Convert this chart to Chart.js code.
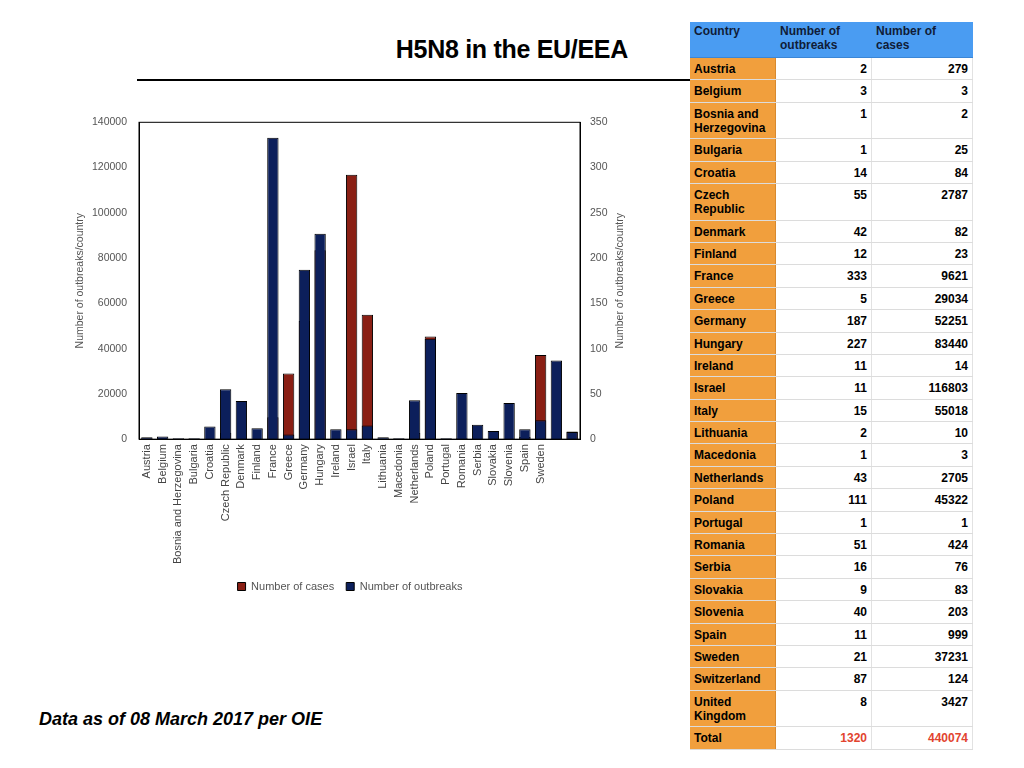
<!DOCTYPE html>
<html>
<head>
<meta charset="utf-8">
<script src="https://cdn.jsdelivr.net/npm/chart.js@4"></script>
<style>
  body { margin: 0; width: 1024px; height: 768px; background: #fff; position: relative; overflow: hidden; font-family: "Liberation Sans", Arial, sans-serif; }
  #title { position: absolute; left: 137px; width: 553px; top: 35px; text-align: right; padding-right: 62px; box-sizing: border-box; font-weight: bold; font-size: 25px; color: #000; letter-spacing: -0.3px; }
  #rule { position: absolute; left: 137px; width: 553px; top: 79px; height: 2px; background: #000; }
  #note { position: absolute; left: 39px; top: 709px; font-weight: bold; font-style: italic; font-size: 18px; }
  #wrap { position: absolute; left: 60px; top: 104px; width: 600px; height: 498px; }
  #tbl { position: absolute; left: 690px; top: 22px; width: 283px; font-size: 12px; font-weight: bold; }
  .row { display: flex; box-sizing: border-box; border-bottom: 1px solid #dcdcdc; }
  .row div { box-sizing: border-box; padding: 4px 4px 0 4px; line-height: 14px; }
  .c0 { width: 86px; background: #f19f3d; border-right: 1px solid #d88a2f; }
  .c1 { width: 96px; text-align: right; border-right: 1px solid #e2e2e2; }
  .c2 { width: 101px; text-align: right; border-right: 1px solid #e2e2e2; }
  .head { background: #4a9cf2; height: 36px; border-bottom: 1px solid #3b86d6; }
  .head div { background: transparent; border: none; text-align: left; color: #101c38; line-height: 13.5px; padding-top: 3px; }
  .tot div.c1, .tot div.c2 { color: #e2442f; }
</style>
</head>
<body>
<div id="title">H5N8 in the EU/EEA</div>
<div id="rule"></div>
<div id="wrap"><canvas id="myChart"></canvas></div>
<div id="tbl"></div>
<div id="note">Data as of 08 March 2017 per OIE</div>
<script>
let countries = ['Austria', 'Belgium', 'Bosnia and Herzegovina', 'Bulgaria', 'Croatia', 'Czech Republic',
    'Denmark', 'Finland', 'France', 'Greece', 'Germany', 'Hungary', 'Ireland', 'Israel', 'Italy',
    'Lithuania', 'Macedonia', 'Netherlands', 'Poland', 'Portugal', 'Romania', 'Serbia', 'Slovakia',
    'Slovenia', 'Spain', 'Sweden', 'Switzerland', 'United Kingdom'];
let outbreaks = [2, 3, 1, 1, 14, 55, 42, 12, 333, 5, 187, 227, 11, 11, 15, 2, 1, 43, 111, 1, 51, 16, 9, 40, 11, 21, 87, 8];
let cases = [279, 3, 2, 25, 84, 2787, 82, 23, 9621, 29034, 52251, 83440, 14, 116803, 55018, 10, 3, 2705, 45322, 1, 424, 76, 83, 203, 999, 37231, 124, 3427];
// the last two categories have no tick label in the original
let tickLabels = countries.slice(0, 26).concat(['', '']);
let casesTicks = [0, 20000, 40000, 60000, 80000, 100000, 120000, 140000];
let outbreakTicks = [0, 50, 100, 150, 200, 250, 300, 350];
let axisTitle = 'Number of outbreaks/country';

// table on the right
let tableNames = ['Austria', 'Belgium', 'Bosnia and Herzegovina', 'Bulgaria', 'Croatia', 'Czech<br>Republic',
    'Denmark', 'Finland', 'France', 'Greece', 'Germany', 'Hungary', 'Ireland', 'Israel', 'Italy',
    'Lithuania', 'Macedonia', 'Netherlands', 'Poland', 'Portugal', 'Romania', 'Serbia', 'Slovakia',
    'Slovenia', 'Spain', 'Sweden', 'Switzerland', 'United<br>Kingdom'];
let tbl = document.getElementById('tbl');
let html = '<div class="row head"><div class="c0">Country</div><div class="c1">Number of<br>outbreaks</div><div class="c2">Number of<br>cases</div></div>';
for (let i = 0; i < countries.length; i++) {
    let tall = (i === 2 || i === 5 || i === 27);
    html += '<div class="row" style="height:' + (tall ? 36.5 : 22.4) + 'px"><div class="c0">' + tableNames[i] +
        '</div><div class="c1">' + outbreaks[i] + '</div><div class="c2">' + cases[i] + '</div></div>';
}
let totOut = outbreaks.reduce((a, b) => a + b, 0);
let totCases = cases.reduce((a, b) => a + b, 0);
html += '<div class="row tot" style="height:22.4px"><div class="c0">Total</div><div class="c1">' + totOut +
    '</div><div class="c2">' + totCases + '</div></div>';
tbl.innerHTML = html;

let tickFont = { family: '"Liberation Sans", Arial, sans-serif', size: 10.5 };

// box round the plot, and the right axis title turned the same way as the left one
let frame = {
    id: 'frame',
    afterDatasetsDraw(chart) {
        let a = chart.chartArea;
        let c = chart.ctx;
        c.save();
        c.strokeStyle = '#000';
        c.lineWidth = 1;
        c.strokeRect(a.left, a.top, a.right - a.left, a.bottom - a.top);
        c.restore();
    },
    afterDraw(chart) {
        let s = chart.scales.yOut;
        let c = chart.ctx;
        c.save();
        c.translate(s.left + 40, (s.top + s.bottom) / 2);
        c.rotate(-Math.PI / 2);
        c.fillStyle = '#555';
        c.font = '10.5px "Liberation Sans", Arial, sans-serif';
        c.textAlign = 'center';
        c.textBaseline = 'middle';
        c.fillText(axisTitle, 0, 0);
        c.restore();
    }
};

let ctx = document.getElementById('myChart').getContext('2d');
let myChart = new Chart(ctx, {
    type: 'bar',
    data: {
        labels: tickLabels,
        datasets: [{
            label: 'Number of cases',
            data: cases,
            yAxisID: 'yCases',
            backgroundColor: '#8a1f14',
            borderColor: '#000',
            borderWidth: 1,
            grouped: false,
            order: 2
        }, {
            label: 'Number of outbreaks',
            data: outbreaks,
            yAxisID: 'yOut',
            backgroundColor: '#0c1f5b',
            borderColor: '#000',
            borderWidth: 1,
            grouped: false,
            order: 1
        }]
    },
    options: {
        responsive: true,
        maintainAspectRatio: false,
        animation: false,
        categoryPercentage: 0.72,
        barPercentage: 1,
        layout: { padding: { top: 6, right: 30, left: 10, bottom: 0 } },
        scales: {
            x: {
                grid: { display: false, drawTicks: false },
                border: { color: '#000' },
                ticks: {
                    autoSkip: false, maxRotation: 90, minRotation: 90, padding: 5,
                    color: '#444', font: { family: '"Liberation Sans", Arial, sans-serif', size: 11 }
                }
            },
            yCases: {
                position: 'left',
                min: 0, max: 140000,
                grid: { display: false, drawTicks: false },
                border: { color: '#000' },
                afterBuildTicks: (s) => { s.ticks = casesTicks.map(v => ({ value: v })); },
                afterFit: (s) => { s.width = 69; },
                ticks: { color: '#555', font: tickFont, padding: 12, callback: v => String(v) },
                title: { display: true, text: axisTitle, color: '#555', font: tickFont, padding: { top: 4, bottom: 2 } }
            },
            yOut: {
                position: 'right',
                min: 0, max: 350,
                grid: { display: false, drawTicks: false },
                border: { color: '#000' },
                afterBuildTicks: (s) => { s.ticks = outbreakTicks.map(v => ({ value: v })); },
                afterFit: (s) => { s.width = 50; },
                ticks: { color: '#555', font: tickFont, padding: 10, callback: v => String(v) }
            }
        },
        plugins: {
            legend: {
                position: 'bottom',
                labels: {
                    sort: (a, b) => a.datasetIndex - b.datasetIndex,
                    boxWidth: 8, boxHeight: 8, padding: 12,
                    color: '#555', font: { family: '"Liberation Sans", Arial, sans-serif', size: 11 }
                }
            },
            tooltip: { enabled: false }
        }
    },
    plugins: [frame]
});
</script>
</body>
</html>
